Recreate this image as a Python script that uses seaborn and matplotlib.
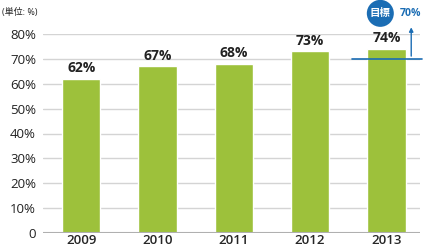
import matplotlib
matplotlib.use("Agg")
import matplotlib.pyplot as plt
import seaborn as sns
import pandas as pd

years = ["2009", "2010", "2011", "2012", "2013"]
values = [62, 67, 68, 73, 74]
target = 70
yticks = [0, 10, 20, 30, 40, 50, 60, 70, 80]
ytick_labels = ["0", "10%", "20%", "30%", "40%", "50%", "60%", "70%", "80%"]

sns.set_style("white")
plt.rcParams['font.family'] = ['Open Sans', 'Noto Sans CJK JP', 'DejaVu Sans']

green = "#9dc13b"
blue = "#1b6db4"

df = pd.DataFrame({"year": years, "value": values})
fig = plt.figure(figsize=(4.25, 2.48), dpi=100)
ax = fig.add_axes([43/425, 1-233/248, 377/425, (233-34)/248])
sns.barplot(data=df, x="year", y="value", color=green, width=0.5, saturation=1, ax=ax, zorder=3)

ax.set_ylim(0, 80)
ax.set_xlim(-0.5, 4.44)
ax.set_yticks(yticks)
ax.set_yticklabels(ytick_labels, fontsize=9.5, color="#222222")
ax.tick_params(axis="x", labelsize=9.5, length=0, pad=1)
ax.tick_params(axis="y", length=0, pad=5)
for t in ax.get_xticklabels():
    t.set_fontweight("semibold")
ax.set_xlabel("")
ax.set_ylabel("")
for s in ax.spines.values():
    s.set_visible(False)
for y in yticks[1:]:
    ax.axhline(y, color="#d4d4d4", lw=1, zorder=1)
ax.axhline(0, color="#b0b0b0", lw=1.5, zorder=4)

for i, v in enumerate(values):
    ax.text(i, v + 1.5, f"{v}%", ha="center", va="bottom", fontsize=10,
            fontweight="bold", color="#222222", zorder=5)

# target marker
ax.plot([3.55, 4.47], [target, target], color=blue, lw=1.2, zorder=6, clip_on=False)
ax.annotate("", xy=(4.325, 83.8), xytext=(4.325, target),
            arrowprops=dict(arrowstyle="-|>", color=blue, lw=1, mutation_scale=6),
            annotation_clip=False, zorder=6)
ax.text(3.92, 88.3, "目標", ha="center", va="center", fontsize=7.5, fontweight="bold",
        color="white", bbox=dict(boxstyle="circle,pad=0.3", fc=blue, ec="none"),
        clip_on=False)
ax.text(4.32, 88.3, "70%", ha="center", va="center", fontsize=7.5, fontweight="bold",
        color=blue, clip_on=False)

fig.text(2/425, 1-12/248, "(単位: %)", ha="left", va="center", fontsize=6.5, color="#222222")

fig.savefig("out.png", dpi=100)
